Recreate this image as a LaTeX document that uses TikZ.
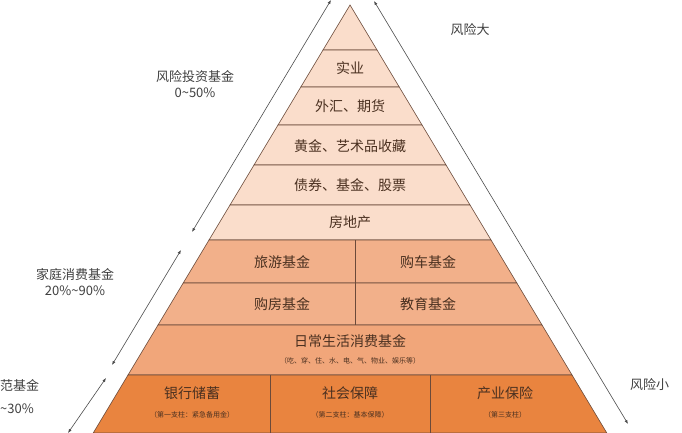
\documentclass[tikz,border=0pt]{standalone}
\usepackage{fontspec}
\setmainfont{Noto Sans CJK SC}
\usetikzlibrary{arrows.meta}
\definecolor{lightp}{HTML}{FADDCB}
\definecolor{midp}{HTML}{F2B08A}
\definecolor{dayp}{HTML}{F1A67A}
\definecolor{botp}{HTML}{E9843F}
\definecolor{edge}{HTML}{6B4A3A}
\definecolor{txt}{HTML}{4A3020}
\tikzset{
  layer/.style={draw=edge,line width=0.6pt},
  lab/.style={text=txt,font=\fontsize{14}{16}\selectfont,inner sep=0pt},
  sub/.style={text=txt,font=\fontsize{7}{8}\selectfont,inner sep=0pt},
  side/.style={text=black!75,font=\fontsize{13}{16}\selectfont,inner sep=0pt,align=center},
  arr/.style={draw=black!70,line width=0.6pt,{Latex[length=4pt,width=3pt]}-{Latex[length=4pt,width=3pt]}}
}
\begin{document}
\begin{tikzpicture}[x=1pt,y=-1pt]
\useasboundingbox (0,0) rectangle (682,433);
\fill[white] (0,0) rectangle (682,433);
\begin{scope}
\clip (0,0) rectangle (682,433);
% layers
\filldraw[layer,fill=lightp] (350,5) -- (377,50) -- (323,50) -- cycle;
\filldraw[layer,fill=lightp] (323,50) -- (377,50) -- (399.2,87) -- (300.8,87) -- cycle;
\filldraw[layer,fill=lightp] (300.8,87) -- (399.2,87) -- (422,125) -- (278,125) -- cycle;
\filldraw[layer,fill=lightp] (278,125) -- (422,125) -- (446,165) -- (254,165) -- cycle;
\filldraw[layer,fill=lightp] (254,165) -- (446,165) -- (470,205) -- (230,205) -- cycle;
\filldraw[layer,fill=lightp] (230,205) -- (470,205) -- (491,240) -- (209,240) -- cycle;
\filldraw[layer,fill=midp] (209,240) -- (491,240) -- (516.8,283) -- (183.2,283) -- cycle;
\filldraw[layer,fill=midp] (183.2,283) -- (516.8,283) -- (542,325) -- (158,325) -- cycle;
\filldraw[layer,fill=dayp] (158,325) -- (542,325) -- (572,375) -- (128,375) -- cycle;
\filldraw[layer,fill=botp] (128,375) -- (572,375) -- (606.8,433) -- (93.2,433) -- cycle;
\draw[layer] (355,240) -- (355,325);
\draw[layer] (270,375) -- (270,433);
\draw[layer] (430,375) -- (430,433);
% side arrows
\coordinate (lt) at (331,0);
\coordinate (l1) at (192,232);
\coordinate (l2) at (181,250);
\coordinate (l3) at (112,365);
\coordinate (l4) at (106,378);
\coordinate (lb) at (68,433);
\draw[arr] (lt) -- (l1);
\draw[arr] (l2) -- (l3);
\draw[arr] (l4) -- (lb);
\coordinate (rt) at (374,1);
\coordinate (rb) at (628,424);
\draw[arr] (rt) -- (rb);
\end{scope}
% texts
\node[lab] (t1) at (350,68) {实业};
\node[lab] (t2) at (350,106) {外汇、期货};
\node[lab] (t3) at (350,146) {黄金、艺术品收藏};
\node[lab] (t4) at (350,185) {债券、基金、股票};
\node[lab] (t5) at (350,222) {房地产};
\node[lab] (t6) at (282,262) {旅游基金};
\node[lab] (t7) at (428,262) {购车基金};
\node[lab] (t8) at (282,304) {购房基金};
\node[lab] (t9) at (428,304) {教育基金};
\node[lab] (t10) at (350,341) {日常生活消费基金};
\node[sub] (s10) at (350,361) {（吃、穿、住、水、电、气、物业、娱乐等）};
\node[lab] (t11) at (192,393) {银行储蓄};
\node[sub] (s11) at (192,415) {（第一支柱：紧急备用金）};
\node[lab] (t12) at (350,393) {社会保障};
\node[sub] (s12) at (350,415) {（第二支柱：基本保障）};
\node[lab] (t13) at (505,393) {产业保险};
\node[sub] (s13) at (505,415) {（第三支柱）};
\node[side] (a1) at (470,30) {风险大};
\node[side] (a2) at (195,84) {风险投资基金\\0\textasciitilde50\%};
\node[side] (a3) at (75,282) {家庭消费基金\\20\%\textasciitilde90\%};
\node[side,anchor=west] (a4) at (0,385) {范基金};
\node[side,anchor=west] (a5) at (0,409) {\textasciitilde30\%};
\node[side,anchor=west] (a6) at (630,385) {风险小};
\end{tikzpicture}
\end{document}
